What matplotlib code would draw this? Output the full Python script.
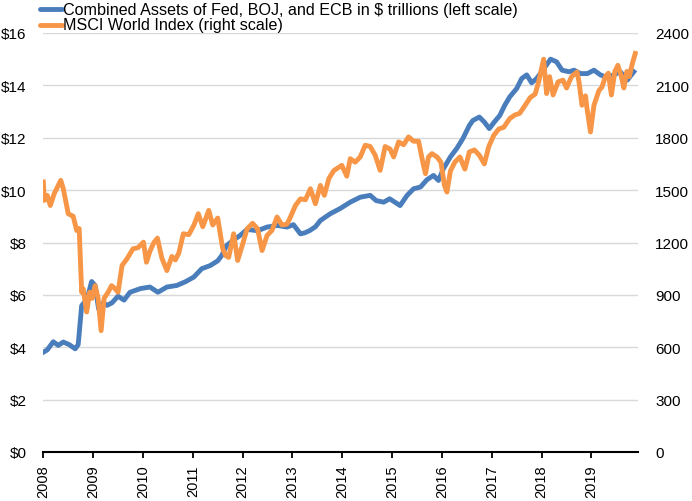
import matplotlib
matplotlib.use("Agg")
import matplotlib.pyplot as plt
from matplotlib.lines import Line2D

# ---- data (decimal year, value) ----
assets_t = [2008.00, 2008.08, 2008.20, 2008.30, 2008.40, 2008.52, 2008.64, 2008.70, 2008.77, 2008.84,
            2008.90, 2008.97, 2009.04, 2009.11, 2009.20, 2009.28, 2009.38, 2009.50, 2009.62, 2009.74,
            2009.95, 2010.14, 2010.30, 2010.48, 2010.68, 2010.85, 2011.02, 2011.18, 2011.35, 2011.50,
            2011.58, 2011.68, 2011.82, 2011.95, 2012.09, 2012.30, 2012.49, 2012.70, 2012.89, 2013.02,
            2013.16, 2013.25, 2013.35, 2013.46, 2013.56, 2013.76, 2013.96, 2014.16, 2014.36, 2014.56,
            2014.68, 2014.83, 2014.95, 2015.16, 2015.30, 2015.43, 2015.57, 2015.70, 2015.83, 2015.93,
            2016.03, 2016.17, 2016.30, 2016.42, 2016.55, 2016.62, 2016.75, 2016.85, 2016.95, 2017.05,
            2017.16, 2017.26, 2017.36, 2017.50, 2017.60, 2017.70, 2017.80, 2017.90, 2018.00, 2018.18,
            2018.30, 2018.41, 2018.55, 2018.65, 2018.78, 2018.92, 2019.05, 2019.18, 2019.31, 2019.45,
            2019.58, 2019.72, 2019.85]
assets_v = [3.81, 3.90, 4.21, 4.07, 4.20, 4.10, 3.94, 4.10, 5.59, 5.75,
            6.00, 6.51, 6.36, 5.46, 5.70, 5.60, 5.70, 5.95, 5.80, 6.10,
            6.24, 6.30, 6.10, 6.30, 6.36, 6.50, 6.68, 7.00, 7.12, 7.30,
            7.50, 7.89, 8.10, 8.27, 8.50, 8.45, 8.59, 8.65, 8.59, 8.68,
            8.33, 8.37, 8.46, 8.60, 8.84, 9.10, 9.30, 9.54, 9.73, 9.80,
            9.60, 9.54, 9.67, 9.41, 9.80, 10.05, 10.12, 10.40, 10.56, 10.37,
            10.82, 11.27, 11.60, 11.97, 12.47, 12.66, 12.79, 12.60, 12.35, 12.60,
            12.85, 13.24, 13.56, 13.88, 14.26, 14.40, 14.10, 14.26, 14.52, 15.00,
            14.90, 14.58, 14.52, 14.58, 14.45, 14.45, 14.58, 14.40, 14.30, 14.40,
            14.52, 14.20, 14.52]

msci_t = [2008.00, 2008.02, 2008.08, 2008.14, 2008.22, 2008.35, 2008.40, 2008.50, 2008.60, 2008.67,
          2008.72, 2008.77, 2008.80, 2008.87, 2008.93, 2008.98, 2009.04, 2009.10, 2009.16, 2009.22,
          2009.30, 2009.37, 2009.44, 2009.50, 2009.58, 2009.68, 2009.74, 2009.80, 2009.90, 2010.01,
          2010.07, 2010.14, 2010.22, 2010.29, 2010.38, 2010.48, 2010.58, 2010.65, 2010.72, 2010.81,
          2010.92, 2011.02, 2011.11, 2011.20, 2011.32, 2011.40, 2011.50, 2011.60, 2011.66, 2011.72,
          2011.82, 2011.90, 2012.00, 2012.09, 2012.20, 2012.30, 2012.39, 2012.49, 2012.59, 2012.69,
          2012.79, 2012.89, 2012.95, 2013.06, 2013.16, 2013.26, 2013.36, 2013.46, 2013.56, 2013.64,
          2013.73, 2013.83, 2013.99, 2014.09, 2014.16, 2014.26, 2014.36, 2014.46, 2014.56, 2014.66,
          2014.76, 2014.86, 2014.96, 2015.03, 2015.13, 2015.23, 2015.33, 2015.43, 2015.53, 2015.63,
          2015.67, 2015.73, 2015.80, 2015.90, 2015.98, 2016.05, 2016.10, 2016.17, 2016.26, 2016.36,
          2016.46, 2016.55, 2016.65, 2016.75, 2016.85, 2016.94, 2017.04, 2017.14, 2017.24, 2017.36,
          2017.46, 2017.56, 2017.67, 2017.77, 2017.87, 2017.94, 2018.04, 2018.10, 2018.16, 2018.23,
          2018.33, 2018.43, 2018.50, 2018.60, 2018.71, 2018.75, 2018.81, 2018.88, 2018.91, 2018.98,
          2019.05, 2019.15, 2019.21, 2019.28, 2019.34, 2019.40, 2019.47, 2019.53, 2019.60, 2019.65,
          2019.71, 2019.76, 2019.82, 2019.88]
msci_v = [1547, 1441, 1470, 1412, 1480, 1556, 1510, 1365, 1350, 1269,
          1280, 915, 935, 802, 915, 880, 953, 880, 695, 880,
          915, 953, 935, 915, 1068, 1107, 1135, 1164, 1170, 1202,
          1087, 1150, 1200, 1225, 1110, 1039, 1120, 1100, 1140, 1250,
          1245, 1298, 1365, 1290, 1384, 1300, 1340, 1164, 1125, 1115,
          1250, 1097, 1190, 1278, 1310, 1278, 1154, 1240, 1270, 1346,
          1300, 1305, 1340, 1412, 1450, 1445, 1508, 1422, 1527, 1470,
          1566, 1612, 1642, 1580, 1680, 1660, 1690, 1757, 1750, 1700,
          1613, 1750, 1735, 1690, 1776, 1760, 1805, 1780, 1780, 1641,
          1594, 1690, 1709, 1690, 1660, 1527, 1489, 1610, 1661, 1690,
          1620, 1719, 1730, 1700, 1650, 1750, 1814, 1850, 1860, 1910,
          1930, 1940, 1986, 2030, 2050, 2120, 2250, 2053, 2150, 2045,
          2120, 2130, 2085, 2150, 2177, 2120, 1986, 2040, 1970, 1833,
          1986, 2070, 2090, 2150, 2170, 2045, 2180, 2215, 2150, 2085,
          2180, 2150, 2225, 2283]

years = list(range(2008, 2020))
left_ticks = [0, 2, 4, 6, 8, 10, 12, 14, 16]
left_labels = ["$0", "$2", "$4", "$6", "$8", "$10", "$12", "$14", "$16"]
right_ticks = [0, 300, 600, 900, 1200, 1500, 1800, 2100, 2400]

label_assets = "Combined Assets of Fed, BOJ, and ECB in $ trillions (left scale)"
label_msci = "MSCI World Index (right scale)"

BLUE = "#4a7dbb"
ORANGE = "#f79646"
GRID = "#d9d9d9"
FONT = "Liberation Sans"
W, H = 692, 502

fig = plt.figure(figsize=(W / 100, H / 100), dpi=100)
ax = fig.add_axes([43.3 / W, 1 - 453 / H, (638.3 - 43.3) / W, (453 - 34) / H])
ax2 = ax.twinx()

ax.set_xlim(2008, 2019.94)
ax.set_ylim(0, 16)
ax2.set_ylim(0, 2400)

for y in left_ticks[1:]:
    ax.axhline(y, color=GRID, lw=1.0, zorder=0)

ax.plot(assets_t, assets_v, color=BLUE, lw=3.5, solid_joinstyle="round", zorder=3)
ax2.plot(msci_t, msci_v, color=ORANGE, lw=3.5, solid_joinstyle="round", zorder=3)

for a in (ax, ax2):
    for s in ("top", "left", "right"):
        a.spines[s].set_visible(False)
ax.spines["bottom"].set_color("black")
ax.spines["bottom"].set_linewidth(1.5)
ax2.spines["bottom"].set_visible(False)

ax.set_xticks(years)
ax.set_xticklabels([str(y) for y in years], rotation=90, fontsize=10.5, family=FONT)
ax.tick_params(axis="x", length=4, width=1.3, direction="out", pad=5, color="black")

ax.set_yticks(left_ticks)
ax.set_yticklabels(left_labels, fontsize=11, family=FONT)
ax.tick_params(axis="y", length=0, pad=12)

ax2.set_yticks(right_ticks)
ax2.set_yticklabels([str(v) for v in right_ticks], fontsize=11, family=FONT)
ax2.tick_params(axis="y", length=0, pad=12)

# legend (manual, figure pixel coordinates)
for yy, col, lab in ((10, BLUE, label_assets), (26, ORANGE, label_msci)):
    fig.add_artist(Line2D([40 / W, 62 / W], [1 - yy / H, 1 - yy / H], color=col, lw=3.5,
                          solid_capstyle="round", transform=fig.transFigure))
    fig.text(63 / W, 1 - (yy + 4.5) / H, lab, fontsize=11.6, family=FONT,
             ha="left", va="baseline")

fig.savefig("out.png", dpi=100)
